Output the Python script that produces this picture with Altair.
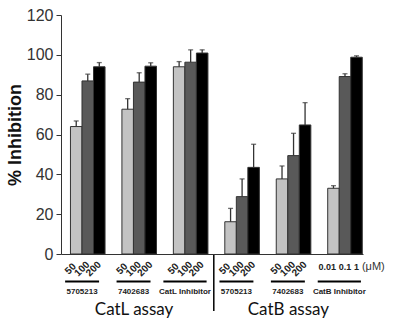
import altair as alt
import pandas as pd

# ---- data ----
groups = ["5705213", "7402683", "CatL Inhibitor", "5705213", "7402683", "CatB Inhibitor"]
assays = ["CatL assay", "CatB assay"]
dose_labels = [["50", "100", "200"]] * 5 + [["0.01", "0.1", "1"]]
unit_label = "(\u03bcM)"

low_vals = [64.0, 72.7, 94.0, 16.2, 37.7, 33.0]
mid_vals = [86.9, 86.3, 96.3, 28.8, 49.4, 89.1]
high_vals = [94.0, 94.3, 100.9, 43.5, 64.8, 98.8]
low_err = [2.8, 5.3, 2.6, 6.7, 6.5, 1.3]
mid_err = [3.4, 4.7, 6.2, 8.9, 11.2, 1.4]
high_err = [2.1, 1.7, 1.6, 11.6, 11.2, 0.7]
y_ticks = [0, 20, 40, 60, 80, 100, 120]

rows = []
series = [(low_vals, low_err), (mid_vals, mid_err), (high_vals, high_err)]
for gi, g in enumerate(groups):
    for bi, (vals, errs) in enumerate(series):
        rows.append(dict(gi=gi, bi=bi, group=g, dose=dose_labels[gi][bi],
                         value=vals[gi], err=errs[gi]))
df = pd.DataFrame(rows)
gdf = pd.DataFrame({"gi": list(range(len(groups))), "group": groups})
adf = pd.DataFrame({"ai": [1, 4], "assay": assays})
udf = pd.DataFrame({"gi": [5], "unit": [unit_label]})
ddf = pd.DataFrame({"pos": [2.45]})

xs = alt.Scale(domain=[-0.52, 5.35], nice=False, zero=False)
ys = alt.Scale(domain=[0, 120], nice=False)
dark = "#333333"

xaxis = alt.Axis(title=None, labels=False, ticks=False, grid=False,
                 domainColor=dark, domainWidth=1.2)
yaxis = alt.Axis(title="% Inhibition", values=y_ticks, tickCount=7,
                 labelOverlap=False,
                 grid=False, labelFont="Liberation Sans", labelFontSize=16,
                 labelColor="#333333", tickColor=dark, domainColor=dark,
                 tickSize=5, labelPadding=3, titleFont="Liberation Sans",
                 titleFontSize=18, titleFontWeight="bold", titleColor="#111111",
                 titlePadding=2)

base = alt.Chart(df).transform_calculate(
    xc="datum.gi + (datum.bi - 1) * 0.224",
    x0="datum.gi + (datum.bi - 1) * 0.224 - 0.112",
    x1="datum.gi + (datum.bi - 1) * 0.224 + 0.112",
    xl="datum.gi + (datum.bi - 1) * 0.224 - 0.11",
    xd="datum.gi + (datum.bi - 1) * 0.224 - (datum.bi == 0 ? 0.12 : 0)",
    top="datum.value + datum.err",
)

bars = base.mark_bar(stroke=dark, strokeWidth=1).encode(
    x=alt.X("x0:Q", scale=xs, axis=xaxis),
    x2="x1:Q",
    y=alt.Y("value:Q", scale=ys, axis=yaxis),
    y2=alt.datum(0),
    color=alt.Color("bi:N", scale=alt.Scale(domain=[0, 1, 2],
                    range=["#c3c3c3", "#595959", "#000000"]), legend=None),
)
stems = base.mark_rule(color=dark, strokeWidth=1.3).encode(
    x=alt.X("xc:Q", scale=xs, axis=xaxis),
    y=alt.Y("value:Q", scale=ys, axis=yaxis), y2="top:Q")
caps = base.mark_tick(orient="horizontal", size=5, thickness=1.3, color=dark).encode(
    x=alt.X("xc:Q", scale=xs, axis=xaxis),
    y=alt.Y("top:Q", scale=ys, axis=yaxis))

rot_labels = base.transform_filter("datum.gi < 5").mark_text(
    angle=315, fontWeight="bold", fontSize=10, font="Liberation Sans",
    color="#222222").encode(x=alt.X("xl:Q", scale=xs, axis=xaxis),
                            y=alt.value(254), text="dose:N")
flat_labels = base.transform_filter("datum.gi == 5").mark_text(
    fontWeight="bold", fontSize=9, font="Liberation Sans",
    color="#222222").encode(x=alt.X("xd:Q", scale=xs, axis=xaxis),
                            y=alt.value(252), text="dose:N")

gbase = alt.Chart(gdf).transform_calculate(
    cx="datum.gi - 0.11",
    lx0="datum.gi - 0.11 - (indexof(datum.group, 'Inhibitor') >= 0 ? 0.42 : 0.33)",
    lx1="datum.gi - 0.11 + (indexof(datum.group, 'Inhibitor') >= 0 ? 0.42 : 0.33)",
)
underlines = gbase.mark_rule(color="#000000", strokeWidth=2).encode(
    x=alt.X("lx0:Q", scale=xs, axis=xaxis), x2="lx1:Q", y=alt.value(266.5))
gnames = gbase.mark_text(fontWeight="bold", fontSize=8, font="Liberation Sans",
                         color="#222222").encode(
    x=alt.X("cx:Q", scale=xs, axis=xaxis), y=alt.value(277), text="group:N")

assay_text = alt.Chart(adf).transform_calculate(ax="datum.ai - 0.1").mark_text(
    fontSize=17, font="Lato", color="#111111").encode(
    x=alt.X("ax:Q", scale=xs, axis=xaxis), y=alt.value(295), text="assay:N")

unit_text = alt.Chart(udf).transform_calculate(ux="datum.gi + 0.55").mark_text(
    fontSize=11, font="Liberation Sans", color="#333333").encode(
    x=alt.X("ux:Q", scale=xs, axis=xaxis), y=alt.value(252), text="unit:N")

divider = alt.Chart(ddf).mark_rule(color="#000000", strokeWidth=1.5).encode(
    x=alt.X("pos:Q", scale=xs, axis=xaxis), y=alt.value(240), y2=alt.value(296))

chart = alt.layer(
    bars, stems, caps, rot_labels, flat_labels, underlines, gnames,
    assay_text, unit_text, divider
).properties(
    width=302, height=239,
    autosize=alt.AutoSizeParams(type="none"),
    padding={"left": 61, "top": 15, "right": 32, "bottom": 68},
).configure_view(stroke=None)

chart.save("out.html", embed_options={"renderer": "svg", "actions": False})
